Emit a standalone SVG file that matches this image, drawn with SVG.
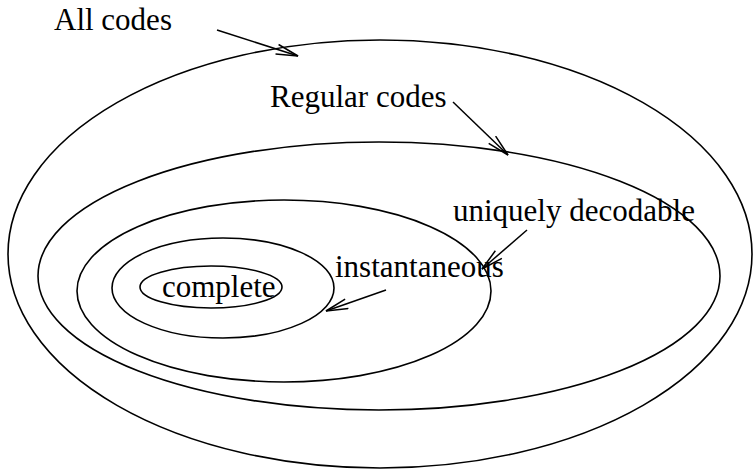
<svg xmlns="http://www.w3.org/2000/svg" width="753" height="470" viewBox="0 0 753 470">
  <defs>
    <style>
      .set { fill: none; stroke: #000; stroke-width: 1.6; }
      .lead { fill: none; stroke: #000; stroke-width: 1.5; marker-end: url(#barb); }
      text { font-family: "Liberation Serif", "Times New Roman", serif; font-size: 31px; fill: #000; }
    </style>
    <marker id="barb" viewBox="0 0 24 12" refX="23" refY="6" markerWidth="24" markerHeight="12" markerUnits="userSpaceOnUse" orient="auto">
      <path d="M1,1 L23,6 L1,11" fill="none" stroke="#000" stroke-width="1.5"/>
    </marker>
  </defs>
  <rect width="753" height="470" fill="#fff"/>

  <g id="all-codes">
    <ellipse class="set" cx="380" cy="254" rx="372" ry="214"/>
    <text x="54" y="30">All codes</text>
  </g>
  <g id="regular-codes">
    <ellipse class="set" cx="379" cy="276" rx="341" ry="134"/>
    <text x="270" y="107">Regular codes</text>
  </g>
  <g id="uniquely-decodable">
    <ellipse class="set" cx="284" cy="291" rx="207" ry="91"/>
    <text x="453" y="221">uniquely decodable</text>
  </g>
  <g id="instantaneous">
    <ellipse class="set" cx="223" cy="288" rx="111" ry="50"/>
    <text x="335" y="277">instantaneous</text>
  </g>
  <g id="complete">
    <ellipse class="set" cx="211" cy="287" rx="71" ry="21"/>
    <text x="162" y="297">complete</text>
  </g>

  <g id="connectors">
    <line class="lead" x1="217" y1="30" x2="298" y2="56"/>
    <line class="lead" x1="453" y1="102" x2="508" y2="155"/>
    <line class="lead" x1="527" y1="230" x2="482" y2="269"/>
    <line class="lead" x1="386" y1="290" x2="326" y2="311"/>
  </g>
</svg>
